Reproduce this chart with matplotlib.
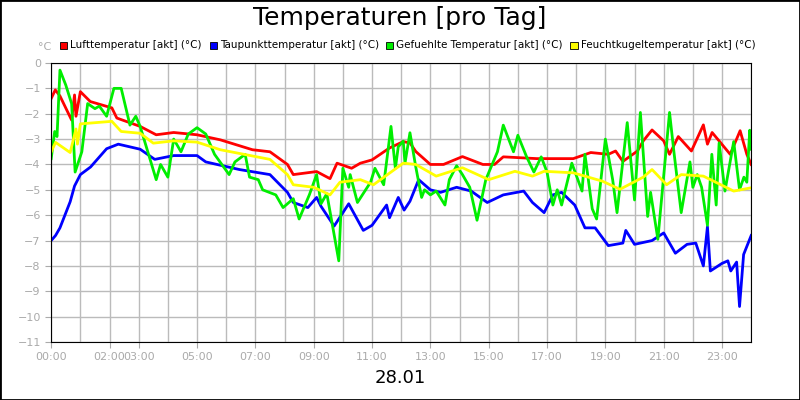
import matplotlib
matplotlib.use("Agg")
import matplotlib.pyplot as plt
from matplotlib.patches import Rectangle

# hours of the day (0..24) and temperatures in degC
red_t = [0, 0.14, 0.3, 0.7, 0.8, 0.85, 1.0, 1.34, 2.08, 2.25, 3.05, 3.6, 4.2, 5.0, 5.8, 6.9, 7.5, 8.1, 8.3,
         9.1, 9.56, 9.8, 10.3, 10.6, 11.0, 11.6, 12.07, 12.3, 12.5, 13.0, 13.45, 14.1, 14.8, 15.2, 15.5,
         16.65, 17.9, 18.5, 19.1, 19.35, 19.6, 20.1, 20.3, 20.6, 21.0, 21.2, 21.5, 21.95, 22.36, 22.5,
         22.66, 23.28, 23.62, 23.85, 24]
red_v = [-1.4, -1.06, -1.3, -2.25, -1.26, -2.1, -1.13, -1.52, -1.77, -2.17, -2.5, -2.83, -2.74, -2.83,
         -3.03, -3.42, -3.5, -4.0, -4.4, -4.28, -4.56, -3.95, -4.15, -3.95, -3.82, -3.35, -3.1, -3.15,
         -3.49, -4.0, -4.0, -3.69, -4.0, -4.0, -3.7, -3.77, -3.77, -3.53, -3.6, -3.47, -3.88, -3.47,
         -3.07, -2.64, -3.07, -3.6, -2.9, -3.47, -2.44, -3.2, -2.74, -3.6, -2.67, -3.6, -4.0]

blue_t = [0, 0.15, 0.3, 0.65, 0.8, 1.0, 1.35, 1.9, 2.3, 3.05, 3.55, 4.2, 5.0, 5.3, 6.45, 7.5, 8.1, 8.3,
          8.8, 9.1, 9.25, 9.7, 10.2, 10.7, 11.0, 11.5, 11.6, 11.9, 12.1, 12.3, 12.6, 13.0, 13.35, 13.9,
          14.4, 14.95, 15.5, 16.2, 16.5, 16.9, 17.2, 17.5, 17.95, 18.3, 18.65, 19.1, 19.6, 19.7, 20.0,
          20.6, 21.0, 21.4, 21.8, 22.1, 22.36, 22.5, 22.6, 23.0, 23.2, 23.3, 23.5, 23.6, 23.74, 24]
blue_v = [-7.0, -6.8, -6.5, -5.47, -4.85, -4.4, -4.1, -3.38, -3.2, -3.4, -3.8, -3.65, -3.65, -3.9, -4.2,
          -4.4, -5.1, -5.5, -5.7, -5.3, -5.65, -6.43, -5.55, -6.6, -6.4, -5.6, -6.1, -5.3, -5.8, -5.45,
          -4.6, -5.0, -5.1, -4.9, -5.05, -5.5, -5.2, -5.05, -5.5, -5.9, -5.2, -5.1, -5.6, -6.5, -6.5,
          -7.2, -7.1, -6.6, -7.15, -7.0, -6.7, -7.5, -7.15, -7.1, -8.0, -6.45, -8.2, -7.9, -7.8, -8.2,
          -7.85, -9.6, -7.55, -6.8]

green_t = [0, 0.12, 0.2, 0.3, 0.5, 0.7, 0.82, 1.05, 1.25, 1.5, 1.65, 1.9, 2.15, 2.4, 2.7, 2.9, 3.05, 3.6,
           3.75, 4.0, 4.2, 4.45, 4.7, 5.0, 5.3, 5.6, 5.85, 6.1, 6.3, 6.65, 6.8, 7.1, 7.25, 7.7, 7.95,
           8.3, 8.5, 8.85, 9.1, 9.25, 9.45, 9.86, 10.0, 10.2, 10.25, 10.5, 10.95, 11.1, 11.4, 11.65,
           11.8, 11.9, 12.07, 12.13, 12.3, 12.5, 12.7, 12.8, 13.0, 13.2, 13.5, 13.65, 13.9, 14.1, 14.35,
           14.6, 14.9, 15.3, 15.5, 15.7, 15.85, 16.0, 16.3, 16.55, 16.8, 17.0, 17.2, 17.35, 17.5, 17.85,
           18.2, 18.3, 18.55, 18.7, 19.0, 19.25, 19.4, 19.75, 20.0, 20.2, 20.45, 20.55, 20.8, 21.2,
           21.35, 21.6, 21.9, 22.0, 22.15, 22.3, 22.5, 22.65, 22.8, 22.9, 23.1, 23.4, 23.6, 23.75,
           23.85, 23.95, 24]
green_v = [-3.77, -2.7, -2.9, -0.28, -0.87, -1.6, -4.3, -3.5, -1.6, -1.8, -1.7, -2.1, -1.0, -1.0, -2.45,
           -2.1, -2.5, -4.6, -4.0, -4.5, -3.0, -3.5, -2.8, -2.55, -2.8, -3.6, -4.0, -4.4, -3.9, -3.6,
           -4.5, -4.6, -5.0, -5.2, -5.7, -5.35, -6.15, -5.2, -4.4, -5.55, -5.15, -7.8, -4.15, -4.9,
           -4.4, -5.5, -4.7, -4.15, -4.8, -2.5, -4.15, -3.3, -3.08, -3.95, -2.75, -4.1, -5.3, -5.0,
           -5.2, -5.05, -5.6, -4.6, -4.05, -4.4, -4.9, -6.2, -4.6, -3.5, -2.45, -3.05, -3.5, -2.85,
           -3.7, -4.3, -3.7, -4.3, -5.6, -5.0, -5.6, -3.95, -5.05, -3.6, -5.75, -6.15, -3.0, -4.6,
           -5.9, -2.35, -5.4, -1.95, -6.05, -5.1, -6.95, -1.95, -3.5, -5.9, -3.9, -4.9, -4.4, -4.9,
           -6.4, -3.6, -5.6, -3.15, -5.05, -3.1, -5.0, -4.5, -4.7, -2.65, -3.4]

yellow_t = [0, 0.15, 0.65, 0.85, 0.9, 1.0, 2.08, 2.4, 3.05, 3.5, 4.2, 5.0, 5.8, 7.5, 8.1, 8.3, 9.0, 9.56,
            9.9, 10.6, 11.05, 12.07, 12.5, 13.2, 14.1, 15.0, 15.9, 16.5, 16.9, 17.9, 18.9, 19.5, 20.3,
            20.6, 21.1, 21.6, 22.36, 23.4, 24]
yellow_v = [-3.5, -3.13, -3.53, -2.6, -3.2, -2.4, -2.3, -2.7, -2.77, -3.16, -3.07, -3.12, -3.42, -3.8,
            -4.4, -4.8, -4.9, -5.2, -4.7, -4.6, -4.8, -3.95, -4.0, -4.46, -4.13, -4.6, -4.27, -4.46,
            -4.27, -4.33, -4.66, -4.98, -4.5, -4.2, -4.8, -4.4, -4.46, -5.05, -4.92]

series = [
    ("Lufttemperatur [akt] (°C)", red_t, red_v, "#ff0000"),
    ("Taupunkttemperatur [akt] (°C)", blue_t, blue_v, "#0000ff"),
    ("Gefuehlte Temperatur [akt] (°C)", green_t, green_v, "#00ee00"),
    ("Feuchtkugeltemperatur [akt] (°C)", yellow_t, yellow_v, "#ffff00"),
]
tick_hours = [0, 2, 3, 5, 7, 9, 11, 13, 15, 17, 19, 21, 23]

fig = plt.figure(figsize=(8, 4), dpi=100)
fig.patches.append(Rectangle((0, 0), 1, 1, transform=fig.transFigure, fill=False,
                             edgecolor="black", linewidth=2))
ax = fig.add_axes([0.064, 0.145, 0.875, 0.6975])

for name, t, v, c in series:
    ax.plot(t, v, color=c, linewidth=2)

ax.set_xlim(0, 24)
ax.set_ylim(-11, 0)
ax.set_yticks(range(-11, 1))
ax.set_xticks(tick_hours)
ax.set_xticklabels([f"{h:02d}:00" for h in tick_hours])
ax.set_xticks(range(25), minor=True)
ax.grid(True, which="both", color="#bbbbbb", linewidth=1)
ax.tick_params(which="both", colors="#aaaaaa", labelsize=8, length=4)
ax.tick_params(which="minor", length=0)
for s in ax.spines.values():
    s.set_color("black")
ax.set_axisbelow(True)

fig.text(0.5, 0.955, "Temperaturen [pro Tag]", ha="center", va="center", fontsize=18)
fig.text(0.5, 0.055, "28.01", ha="center", va="center", fontsize=13)
fig.text(0.047, 0.882, "°C", ha="left", va="center", fontsize=8, color="#aaaaaa")

lx = [0.075, 0.262, 0.482, 0.713]
for (name, t, v, c), x in zip(series, lx):
    fig.patches.append(Rectangle((x, 0.877), 0.009, 0.018, transform=fig.transFigure,
                                 facecolor=c, edgecolor="black", linewidth=0.6))
    fig.text(x + 0.013, 0.887, name, ha="left", va="center", fontsize=7.5)

fig.savefig("out.png", dpi=100)
